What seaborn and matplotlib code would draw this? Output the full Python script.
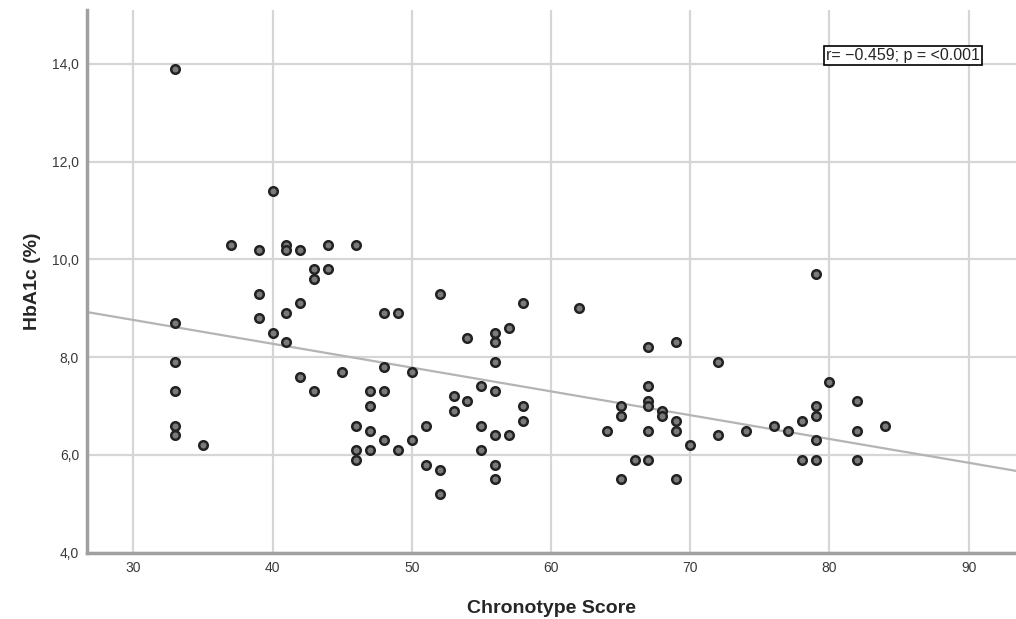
## chronotype score vs HbA1c scatter with regression line
import pandas as pd
import seaborn as sns
import matplotlib.pyplot as plt
from matplotlib.ticker import FuncFormatter

## values (chronotype score, HbA1c %)
chronotype = [33, 33, 33, 33, 33, 33, 35, 37, 39, 39, 39, 40, 40,
              41, 41, 41, 41, 42, 42, 42, 43, 43, 43, 44, 44, 45,
              46, 46, 46, 46, 47, 47, 47, 47, 48, 48, 48, 48, 49, 49,
              50, 50, 51, 51, 52, 52, 52, 53, 53, 54, 54, 55, 55, 55,
              56, 56, 56, 56, 56, 56, 56, 57, 57, 58, 58, 58, 62, 64,
              65, 65, 65, 66, 67, 67, 67, 67, 67, 67, 68, 68,
              69, 69, 69, 69, 70, 72, 72, 74, 76, 77, 78, 78,
              79, 79, 79, 79, 79, 80, 82, 82, 82, 84]
hba1c = [13.9, 8.7, 7.9, 7.3, 6.6, 6.4, 6.2, 10.3, 10.2, 9.3, 8.8, 11.4, 8.5,
         10.3, 10.2, 8.9, 8.3, 10.2, 9.1, 7.6, 9.8, 9.6, 7.3, 10.3, 9.8, 7.7,
         10.3, 6.6, 6.1, 5.9, 7.3, 7.0, 6.5, 6.1, 8.9, 7.8, 7.3, 6.3, 8.9, 6.1,
         7.7, 6.3, 6.6, 5.8, 9.3, 5.7, 5.2, 7.2, 6.9, 8.4, 7.1, 7.4, 6.6, 6.1,
         8.5, 8.3, 7.9, 7.3, 6.4, 5.8, 5.5, 8.6, 6.4, 9.1, 7.0, 6.7, 9.0, 6.5,
         7.0, 6.8, 5.5, 5.9, 8.2, 7.4, 7.1, 7.0, 6.5, 5.9, 6.9, 6.8,
         8.3, 6.7, 6.5, 5.5, 6.2, 7.9, 6.4, 6.5, 6.6, 6.5, 6.7, 5.9,
         9.7, 7.0, 6.8, 6.3, 5.9, 7.5, 7.1, 6.5, 5.9, 6.6]
x_ticks = [30, 40, 50, 60, 70, 80, 90]
y_ticks = [4, 6, 8, 10, 12, 14]
stats_label = "r= \u22120.459; p = <0.001"

df = pd.DataFrame({"Chronotype Score": chronotype, "HbA1c (%)": hba1c})

sns.set_style("whitegrid")
plt.rcParams['font.family'] = ['Liberation Sans', 'DejaVu Sans']

fig = plt.figure(figsize=(10.16, 6.19), dpi=100)
ax = fig.add_axes([0.086, 0.107, 0.914, 0.877])
ax.set_xlim(26.7, 93.4)
ax.set_ylim(4.0, 15.1)

sns.regplot(data=df, x="Chronotype Score", y="HbA1c (%)", ax=ax, ci=None, truncate=False,
            scatter_kws=dict(s=38, facecolor="#7a7a7a", edgecolor="#222222", linewidths=1.8, alpha=1, zorder=3),
            line_kws=dict(color="#b4b4b4", lw=1.6, zorder=2))

ax.set_xticks(x_ticks)
ax.set_yticks(y_ticks)
ax.yaxis.set_major_formatter(FuncFormatter(lambda v, p: f"{v:.1f}".replace(".", ",")))
ax.tick_params(length=0, labelsize=10, colors="#3a3a3a", pad=6)
ax.grid(True, color="#d6d6d6", lw=1.6)

## spss style spines
for side in ["top", "right"]:
    ax.spines[side].set_visible(False)
for side in ["left", "bottom"]:
    ax.spines[side].set_color("#a0a0a0")
    ax.spines[side].set_linewidth(2.5)

ax.set_xlabel("Chronotype Score", fontsize=14, fontweight="bold", labelpad=18)
ax.set_ylabel("HbA1c (%)", fontsize=14, fontweight="bold", labelpad=8)

ax.text(85.3, 14.16, stats_label, ha="center", va="center", fontsize=11.5,
        bbox=dict(boxstyle="square,pad=0.12", facecolor="white", edgecolor="black", lw=1.2), zorder=5)

plt.savefig("out.png", dpi=100)
